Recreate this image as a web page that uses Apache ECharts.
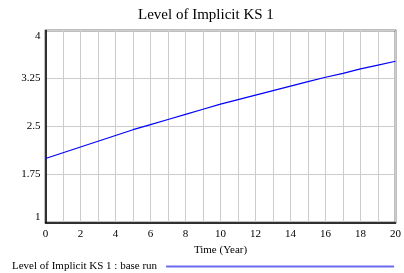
<!DOCTYPE html>
<html>
<head>
<meta charset="utf-8">
<script src="https://cdn.jsdelivr.net/npm/echarts@6/dist/echarts.min.js"></script>
<style>
  html, body { margin: 0; padding: 0; background: #fff; }
  #chart { width: 404px; height: 273px; }
</style>
</head>
<body>
<div id="chart"></div>
<script>
// years 0..20 and the simulated values
const years = [0, 1, 2, 3, 4, 5, 6, 7, 8, 9, 10, 11, 12, 13, 14, 15, 16, 17, 18, 19, 20];
const levelKS = [2.00, 2.09, 2.18, 2.27, 2.36, 2.45, 2.53, 2.61, 2.69, 2.77, 2.85,
                 2.92, 2.99, 3.06, 3.13, 3.20, 3.27, 3.33, 3.40, 3.46, 3.52];
const yTicks = [1, 1.75, 2.5, 3.25, 4];

const font = 'Liberation Serif';

const option = {
  animation: false,
  title: {
    text: 'Level of Implicit KS 1',
    left: 133,
    top: 3,
    textStyle: { fontFamily: font, fontSize: 15, fontWeight: 'normal', color: '#000' }
  },
  grid: {
    left: 45.5, right: 4, top: 30.5, bottom: 50.5,
    show: true, borderColor: '#000', borderWidth: 1.5
  },
  legend: {
    left: 7,
    top: 256,
    align: 'right',
    itemWidth: 228,
    itemHeight: 2,
    icon: 'rect',
    textStyle: { fontFamily: font, fontSize: 11, color: '#000', padding: [0, 4, 0, 0] },
    data: ['Level of Implicit KS 1 : base run']
  },
  xAxis: {
    type: 'value',
    min: 0, max: 20, interval: 2,
    name: 'Time (Year)',
    nameLocation: 'middle',
    nameGap: 20,
    nameTextStyle: { fontFamily: font, fontSize: 11, color: '#000' },
    axisLine: { lineStyle: { color: '#000', width: 1.5 } },
    axisTick: { show: false },
    axisLabel: { fontFamily: font, fontSize: 11, color: '#000', margin: 6 },
    splitLine: { lineStyle: { color: '#cccccc', width: 1 } },
    minorTick: { show: false, splitNumber: 2 },
    minorSplitLine: { show: true, lineStyle: { color: '#cccccc', width: 1 } }
  },
  yAxis: {
    type: 'value',
    min: 1, max: 4,
    axisLine: { show: true, lineStyle: { color: '#000', width: 1.5 } },
    axisTick: { show: false, customValues: yTicks },
    axisLabel: {
      fontFamily: font, fontSize: 11, color: '#000', margin: 5,
      customValues: yTicks,
      verticalAlignMinLabel: 'bottom',
      verticalAlignMaxLabel: 'top'
    },
    splitLine: { lineStyle: { color: '#cccccc', width: 1 } }
  },
  series: [{
    name: 'Level of Implicit KS 1 : base run',
    type: 'line',
    data: years.map((t, i) => [t, levelKS[i]]),
    showSymbol: false,
    lineStyle: { color: '#0000ff', width: 1.2 },
    itemStyle: { color: '#6a6af0' }
  }]
};

const myChart = echarts.init(document.getElementById('chart'));
myChart.setOption(option);
</script>
</body>
</html>
